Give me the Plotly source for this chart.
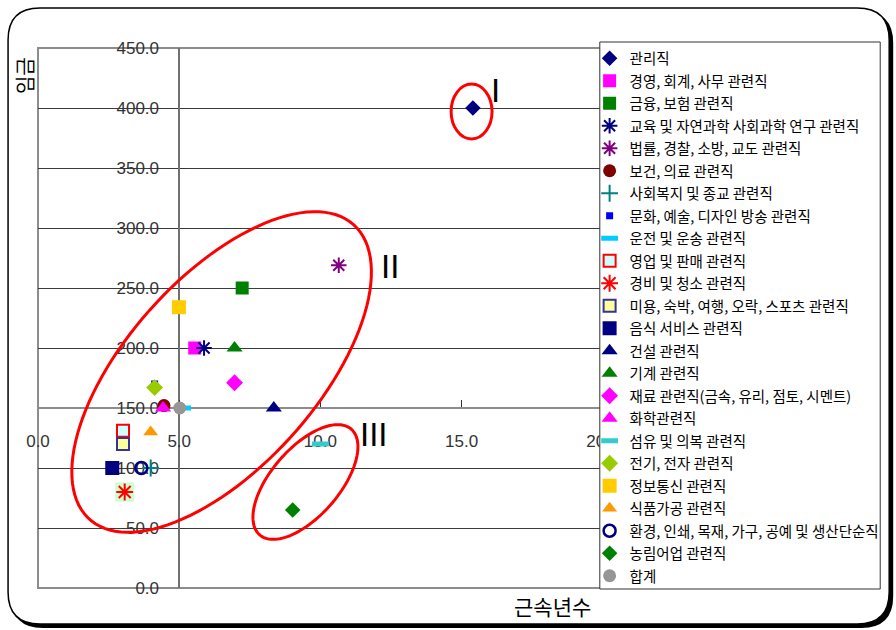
import numpy as np
import plotly.graph_objects as go

# 직종별 근속년수(x)와 임금(y)
jobs = [
    "관리직", "경영, 회계, 사무 관련직", "금융, 보험 관련직",
    "교육 및 자연과학 사회과학 연구 관련직", "법률, 경찰, 소방, 교도 관련직",
    "보건, 의료 관련직", "사회복지 및 종교 관련직", "문화, 예술, 디자인 방송 관련직",
    "운전 및 운송 관련직", "영업 및 판매 관련직", "경비 및 청소 관련직",
    "미용, 숙박, 여행, 오락, 스포츠 관련직", "음식 서비스 관련직", "건설 관련직",
    "기계 관련직", "재료 관련직(금속, 유리, 점토, 시멘트)", "화학관련직",
    "섬유 및 의복 관련직", "전기, 전자 관련직", "정보통신 관련직", "식품가공 관련직",
    "환경, 인쇄, 목재, 가구, 공예 및 생산단순직", "농림어업 관련직", "합계",
]
tenure = [15.4, 5.55, 7.23, 5.88, 10.65, 4.46, 3.99, 4.13, 5.12, 3.01, 3.07, 3.01,
          2.63, 8.35, 6.96, 6.96, 4.43, 10.0, 4.13, 4.99, 3.99, 3.66, 9.02, 5.02]
wage = [400, 200, 250, 200, 269, 152, 100, 170, 150, 131, 80, 120,
        100, 150, 200, 171, 150, 120, 167, 234, 130, 100, 65, 150]

x_ticks = [0, 5, 10, 15, 20]
y_ticks = [0, 50, 100, 150, 200, 250, 300, 350, 400, 450]

# marker styles, one per series
styles = [
    dict(symbol="diamond", size=12, color="#000080"),
    dict(symbol="square", size=13, color="#ff00ff"),
    dict(symbol="square", size=13, color="#008000"),
    dict(symbol="asterisk-open", size=13, color="#000080", line=dict(color="#000080", width=2)),
    dict(symbol="asterisk-open", size=13, color="#800080", line=dict(color="#800080", width=2)),
    dict(symbol="circle", size=13, color="#800000"),
    dict(symbol="cross-thin-open", size=12, color="#008080", line=dict(color="#008080", width=2)),
    dict(symbol="square", size=7, color="#0000ff"),
    dict(symbol="line-ew-open", size=12, color="#00ccff", line=dict(color="#00ccff", width=5)),
    dict(symbol="square", size=12, color="#ccffff", line=dict(color="#ff0000", width=2)),
    dict(symbol="asterisk-open", size=14, color="#ff0000", line=dict(color="#ff0000", width=2)),
    dict(symbol="square", size=12, color="#ffff99", line=dict(color="#333399", width=2)),
    dict(symbol="square", size=14, color="#000080"),
    dict(symbol="triangle-up", size=14, color="#000080"),
    dict(symbol="triangle-up", size=14, color="#008000"),
    dict(symbol="diamond", size=13, color="#ff00ff"),
    dict(symbol="triangle-up", size=14, color="#ff00ff"),
    dict(symbol="line-ew-open", size=12, color="#33cccc", line=dict(color="#33cccc", width=5)),
    dict(symbol="diamond", size=13, color="#99cc00"),
    dict(symbol="square", size=14, color="#ffcc00"),
    dict(symbol="triangle-up", size=13, color="#ff9900"),
    dict(symbol="circle-open", size=12, color="#000080", line=dict(color="#000080", width=2.5)),
    dict(symbol="diamond", size=12, color="#008000"),
    dict(symbol="circle", size=13, color="#969696"),
]

# plot area geometry (pixels)
X_MAX, Y_MAX = 25, 450
FW, FH = 896, 630
L, T, B = 38, 48, 42
PW = 28.3 * X_MAX
R = FW - L - PW
PH = FH - T - B


def to_paper(px, py):
    return (px - L) / PW, (FH - B - py) / PH


def to_data(px, py):
    return (px - L) / PW * X_MAX, (FH - B - py) / PH * Y_MAX


fig = go.Figure()

for name, xv, yv, st in zip(jobs, tenure, wage, styles):
    if name == "경비 및 청소 관련직":
        fig.add_trace(go.Scatter(
            x=[xv], y=[yv], mode="markers", showlegend=False, hoverinfo="skip",
            marker=dict(symbol="square", size=19, color="#ccffcc"),
        ))
    fig.add_trace(go.Scatter(
        x=[xv], y=[yv], mode="markers", marker=st,
        name=f"<span style='font-size:14.5px'>{name}</span>",
    ))


# red ellipses grouping the occupations
def ellipse_path(cx, cy, a, b, ang_deg, n=120):
    t = np.linspace(0, 2 * np.pi, n)
    ang = np.radians(ang_deg)
    ex = cx + a * np.cos(t) * np.cos(ang) - b * np.sin(t) * np.sin(ang)
    ey = cy + a * np.cos(t) * np.sin(ang) + b * np.sin(t) * np.cos(ang)
    pts = [to_data(px, py) for px, py in zip(ex, ey)]
    return "M " + " L ".join(f"{x:.4f},{y:.4f}" for x, y in pts) + " Z"


# outer rounded frame with drop shadow
def rounded(x0, y0, x1, y1, r):
    p = [
        (x0 + r, y0), (x1 - r, y0), "Q", (x1, y0), (x1, y0 + r),
        (x1, y1 - r), "Q", (x1, y1), (x1 - r, y1),
        (x0 + r, y1), "Q", (x0, y1), (x0, y1 - r),
        (x0, y0 + r), "Q", (x0, y0), (x0 + r, y0),
    ]
    out, i, first = [], 0, True
    while i < len(p):
        if p[i] == "Q":
            a = to_paper(*p[i + 1]); b = to_paper(*p[i + 2])
            out.append(f"Q {a[0]:.5f},{a[1]:.5f} {b[0]:.5f},{b[1]:.5f}")
            i += 3
        else:
            c = to_paper(*p[i])
            out.append(("M " if first else "L ") + f"{c[0]:.5f},{c[1]:.5f}")
            first = False
            i += 1
    return " ".join(out) + " Z"


shapes = [
    dict(type="path", xref="paper", yref="paper", layer="below",
         path=rounded(11, 11, 895, 628, 32), fillcolor="#000000", line=dict(width=0)),
    dict(type="path", xref="paper", yref="paper", layer="below",
         path=rounded(8, 8, 891, 624, 32), fillcolor="#ffffff",
         line=dict(color="#000000", width=1.5)),
    # plot area frame
    dict(type="rect", xref="paper", yref="paper", x0=0, x1=1, y0=0, y1=1,
         layer="below", line=dict(color="#8c8c8c", width=2)),
]

x0, y0 = to_data(452, 139)
x1, y1 = to_data(493, 84)
shapes.append(dict(type="circle", xref="x", yref="y", x0=x0, x1=x1, y0=y0, y1=y1,
                   line=dict(color="#ff0000", width=3)))
shapes.append(dict(type="path", xref="x", yref="y",
                   path=ellipse_path(222, 372, 198, 95, -48),
                   line=dict(color="#ff0000", width=3)))
shapes.append(dict(type="path", xref="x", yref="y",
                   path=ellipse_path(306, 482, 70, 34, -49),
                   line=dict(color="#ff0000", width=3)))

# legend panel (white box behind the legend entries)
bx0, by0 = to_paper(601, 589)
bx1, by1 = to_paper(882, 42)
shapes.append(dict(type="rect", xref="paper", yref="paper", x0=bx0, x1=bx1, y0=by0, y1=by1,
                   layer="above", fillcolor="#ffffff", line=dict(color="#333333", width=1)))

annotations = []
for label, (px, py) in zip(["I", "II", "III"], [(496, 90), (391, 266), (375, 434)]):
    ax, ay = to_data(px, py)
    annotations.append(dict(x=ax, y=ay, xref="x", yref="y", text=label, showarrow=False,
                            xanchor="center", yanchor="middle",
                            font=dict(family="Liberation Sans", size=33, color="#000000")))

ax, ay = to_paper(25, 76)
annotations.append(dict(x=ax, y=ay, xref="paper", yref="paper", text="임금", textangle=-90,
                        showarrow=False, xanchor="center", yanchor="middle",
                        font=dict(family="Noto Sans CJK KR", size=20, color="#000000")))
ax, ay = to_paper(554, 606)
annotations.append(dict(x=ax, y=ay, xref="paper", yref="paper", text="근속년수",
                        showarrow=False, xanchor="center", yanchor="middle",
                        font=dict(family="Noto Sans CJK KR", size=21, color="#000000")))

tick_font = dict(family="Liberation Sans", size=17, color="#333333")
lx, ly = to_paper(590, 42)

fig.update_layout(
    width=FW, height=FH,
    margin=dict(l=L, r=R, t=T, b=B),
    paper_bgcolor="#ffffff",
    plot_bgcolor="rgba(0,0,0,0)",
    shapes=shapes,
    annotations=annotations,
    xaxis=dict(
        range=[0, X_MAX], tickvals=x_ticks, ticktext=[f"{v:.1f}" for v in x_ticks],
        showgrid=False, zeroline=False, anchor="free", position=150 / Y_MAX,
        showline=True, linecolor="#8c8c8c", linewidth=2,
        ticks="inside", ticklen=7, tickcolor="#333333", tickwidth=1,
        ticklabelstandoff=18, tickfont=tick_font, layer="below traces",
    ),
    yaxis=dict(
        range=[0, Y_MAX], tickvals=y_ticks, ticktext=[f"{v:.1f}" for v in y_ticks],
        showgrid=True, gridcolor="#3c3c3c", gridwidth=1, zeroline=False,
        anchor="free", position=5 / X_MAX,
        showline=True, linecolor="#707070", linewidth=1.5,
        ticks="inside", ticklen=5, tickcolor="#333333", tickwidth=1,
        ticklabelstandoff=16, tickfont=tick_font, layer="below traces",
    ),
    legend=dict(
        x=lx, y=ly, xanchor="left", yanchor="top",
        bgcolor="rgba(0,0,0,0)", borderwidth=0,
        font=dict(family="Noto Sans CJK KR", size=15, color="#000000"),
        itemwidth=30, tracegroupgap=0, maxheight=620,
    ),
)

fig.write_html("out.html")
